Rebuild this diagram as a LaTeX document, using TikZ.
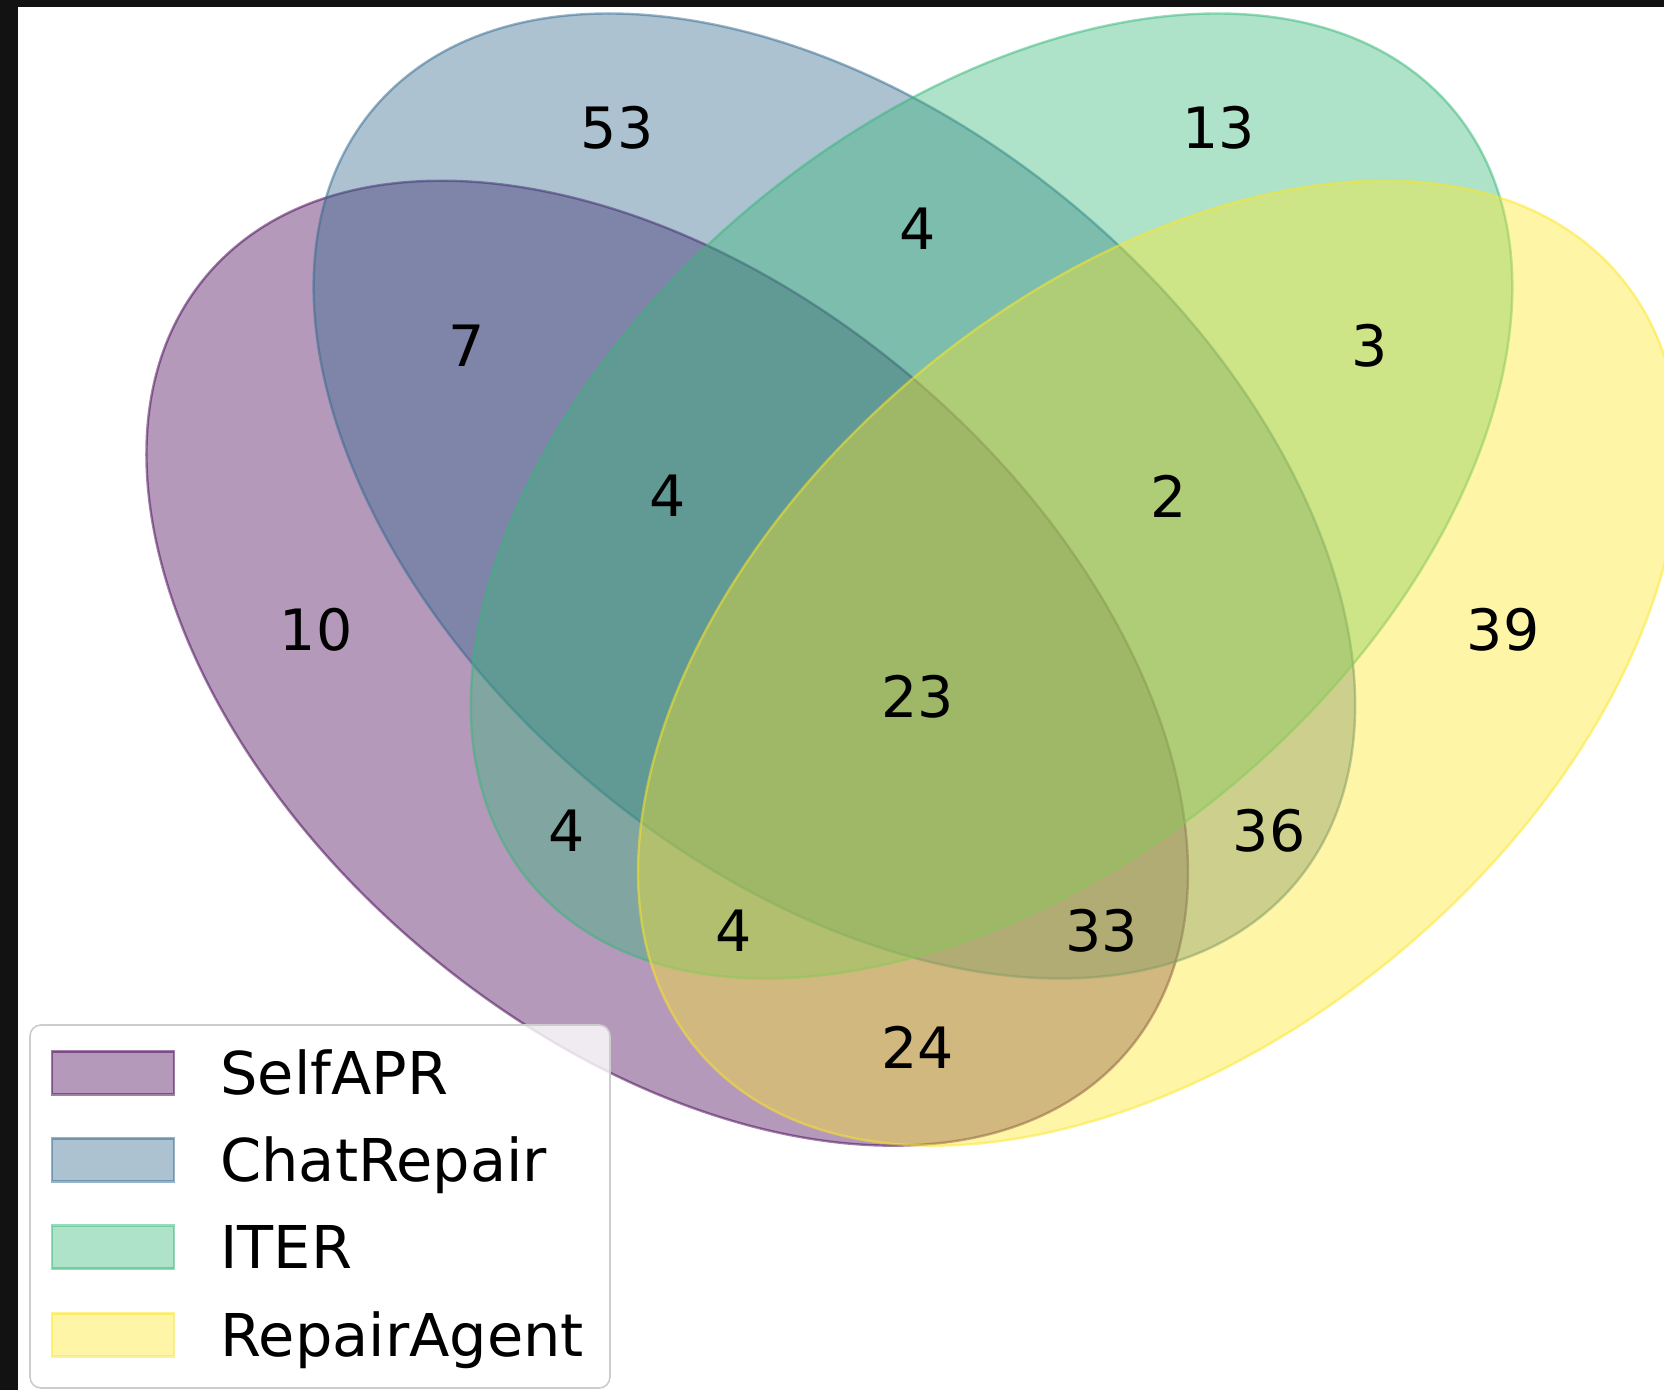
\documentclass[tikz,border=0pt]{standalone}
\usepackage{fontspec}
\setmainfont{DejaVu Sans}
\usetikzlibrary{positioning}

\definecolor{selfc}{RGB}{68,1,84}
\definecolor{chatc}{RGB}{49,104,142}
\definecolor{iterc}{RGB}{53,183,121}
\definecolor{agentc}{RGB}{253,231,37}
\definecolor{barc}{RGB}{18,18,18}

\begin{document}
\begin{tikzpicture}[x=836pt,y=836pt,
    set/.style={draw=#1,fill=#1,line width=1.2pt,draw opacity=0.5,fill opacity=0.4},
    cnt/.style={inner sep=0pt,font=\fontsize{28.5}{34}\selectfont},
    key/.style={draw=#1,fill=#1,line width=1.2pt,draw opacity=0.5,fill opacity=0.4,
        minimum width=61pt,minimum height=21.5pt,inner sep=0pt},
    lab/.style={inner sep=0pt,text height=21.5pt,text depth=0pt,font=\fontsize{29.5}{35}\selectfont}]

        \useasboundingbox (-0.04904,-0.03469) rectangle (0.94617,0.79665);
        \fill[white] (-0.04904,-0.03469) rectangle (0.94617,0.79665);
        \clip (-0.04904,-0.03469) rectangle (0.94617,0.79665);

        % the four sets
        \draw[set=selfc, rotate around={140:(0.350,0.400)}] (0.350,0.400) ellipse [x radius=0.36, y radius=0.225];
        \draw[set=chatc, rotate around={140:(0.450,0.500)}] (0.450,0.500) ellipse [x radius=0.36, y radius=0.225];
        \draw[set=iterc, rotate around={40:(0.544,0.500)}] (0.544,0.500) ellipse [x radius=0.36, y radius=0.225];
        \draw[set=agentc, rotate around={40:(0.644,0.400)}] (0.644,0.400) ellipse [x radius=0.36, y radius=0.225];

        % counts
        \node[cnt] (n0001) at (0.85,0.42) {39};
        \node[cnt] (n0010) at (0.68,0.72) {13};
        \node[cnt] (n0011) at (0.77,0.59) {3};
        \node[cnt] (n0100) at (0.32,0.72) {53};
        \node[cnt] (n0101) at (0.71,0.30) {36};
        \node[cnt] (n0110) at (0.50,0.66) {4};
        \node[cnt] (n0111) at (0.65,0.50) {2};
        \node[cnt] (n1000) at (0.14,0.42) {10};
        \node[cnt] (n1001) at (0.50,0.17) {24};
        \node[cnt] (n1010) at (0.29,0.30) {4};
        \node[cnt] (n1011) at (0.39,0.24) {4};
        \node[cnt] (n1100) at (0.23,0.59) {7};
        \node[cnt] (n1101) at (0.61,0.24) {33};
        \node[cnt] (n1110) at (0.35,0.50) {4};
        \node[cnt] (n1111) at (0.50,0.38) {23};

        % legend
        \draw[draw=black!20,fill=white,fill opacity=0.8,line width=0.8pt,rounded corners=5.5pt]
            (-0.0311,-0.0335) rectangle (0.3158,0.1836);
        \node[key=selfc] (k1) at (0.0185,0.1549) {};
        \node[key=chatc] (k2) at (0.0185,0.1029) {};
        \node[key=iterc] (k3) at (0.0185,0.0508) {};
        \node[key=agentc] (k4) at (0.0185,-0.0018) {};
        \node[lab, right=22.4pt of k1] (l1) {SelfAPR};
        \node[lab, right=22.4pt of k2] (l2) {ChatRepair};
        \node[lab, right=22.4pt of k3] (l3) {ITER};
        \node[lab, right=22.4pt of k4] (l4) {RepairAgent};

        % screenshot edges
        \fill[barc] (-0.04904,-0.03469) rectangle (-0.03828,0.79665);
        \fill[barc] (-0.04904,0.79246) rectangle (0.94617,0.79665);
    \end{tikzpicture}
\end{document}
